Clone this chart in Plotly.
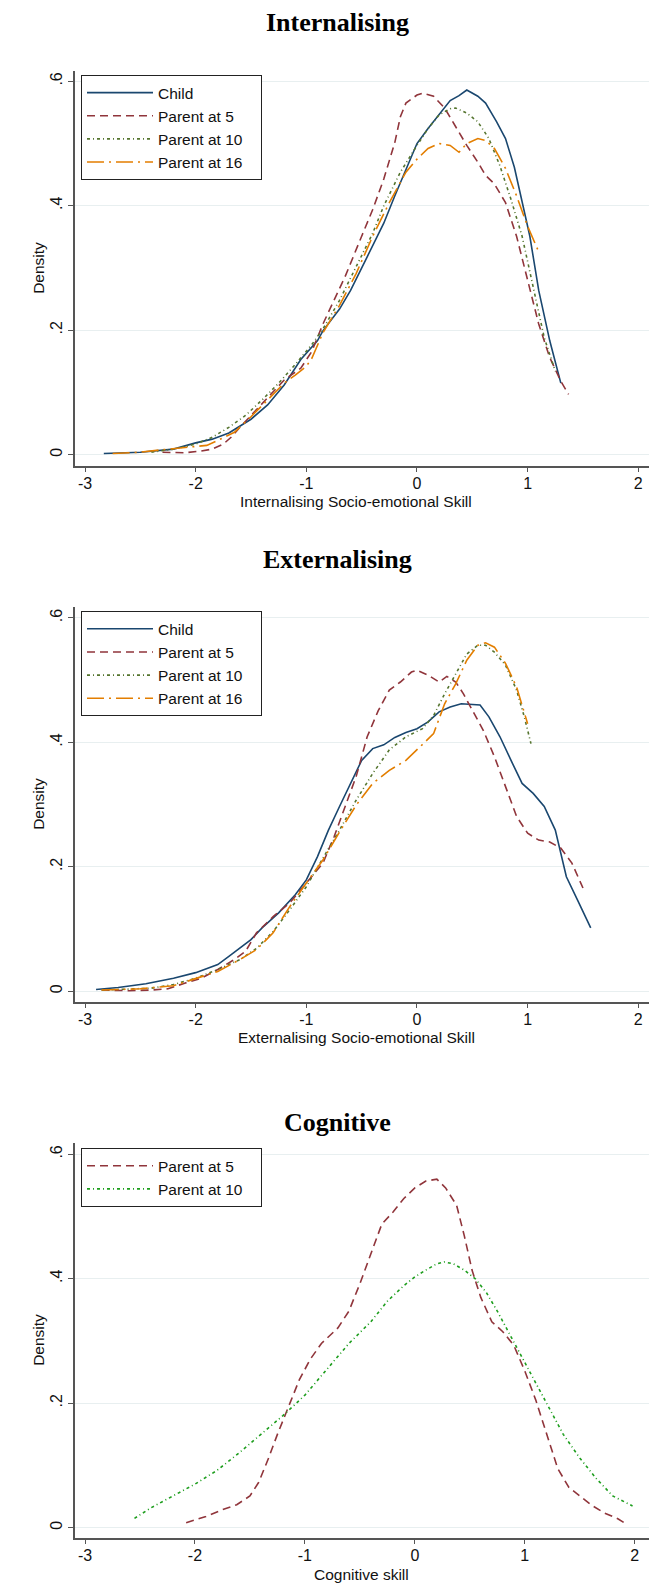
import plotly.graph_objects as go

# ---------------- DATA ----------------
# Panel 1: Internalising
int_child_x = [-2.83, -2.5, -2.2, -2.0, -1.85, -1.7, -1.5, -1.35, -1.2, -1.05, -0.9, -0.85, -0.7, -0.6, -0.45, -0.3, -0.2, -0.1, 0.0, 0.1, 0.2, 0.3, 0.38, 0.45, 0.55, 0.62, 0.72, 0.8, 0.88, 0.95, 1.02, 1.1, 1.2, 1.3]
int_child_y = [0.002, 0.004, 0.009, 0.019, 0.025, 0.035, 0.057, 0.08, 0.112, 0.153, 0.183, 0.199, 0.234, 0.264, 0.318, 0.372, 0.416, 0.459, 0.50, 0.524, 0.547, 0.569, 0.577, 0.586, 0.576, 0.565, 0.535, 0.508, 0.462, 0.405, 0.351, 0.264, 0.183, 0.115]

int_p5_x = [-2.3, -2.1, -1.95, -1.85, -1.75, -1.68, -1.6, -1.5, -1.35, -1.2, -1.05, -0.95, -0.85, -0.75, -0.65, -0.5, -0.4, -0.3, -0.2, -0.15, -0.1, 0.0, 0.05, 0.15, 0.25, 0.35, 0.45, 0.55, 0.62, 0.7, 0.8, 0.9, 1.0, 1.1, 1.2, 1.3, 1.37]
int_p5_y = [0.004, 0.003, 0.006, 0.009, 0.017, 0.028, 0.044, 0.063, 0.093, 0.12, 0.139, 0.166, 0.21, 0.248, 0.286, 0.351, 0.394, 0.443, 0.502, 0.543, 0.565, 0.578, 0.581, 0.576, 0.557, 0.527, 0.497, 0.47, 0.449, 0.435, 0.405, 0.351, 0.28, 0.21, 0.156, 0.118, 0.097]

int_p10_x = [-2.4, -2.2, -2.0, -1.85, -1.7, -1.55, -1.4, -1.25, -1.1, -0.95, -0.85, -0.7, -0.55, -0.4, -0.3, -0.15, 0.0, 0.1, 0.2, 0.3, 0.35, 0.45, 0.55, 0.65, 0.75, 0.85, 0.95, 1.05, 1.15, 1.25]
int_p10_y = [0.004, 0.009, 0.017, 0.028, 0.044, 0.063, 0.088, 0.115, 0.145, 0.177, 0.202, 0.248, 0.302, 0.356, 0.40, 0.454, 0.497, 0.524, 0.546, 0.556, 0.557, 0.549, 0.535, 0.508, 0.464, 0.41, 0.351, 0.269, 0.188, 0.134]

int_p16_x = [-2.75, -2.5, -2.3, -2.1, -1.9, -1.8, -1.65, -1.5, -1.35, -1.2, -1.1, -1.0, -0.95, -0.85, -0.7, -0.55, -0.4, -0.25, -0.1, 0.0, 0.1, 0.2, 0.3, 0.38, 0.45, 0.55, 0.62, 0.7, 0.8, 0.9, 1.0, 1.1]
int_p16_y = [0.002, 0.004, 0.008, 0.011, 0.015, 0.023, 0.036, 0.061, 0.088, 0.115, 0.128, 0.142, 0.155, 0.196, 0.24, 0.291, 0.351, 0.405, 0.454, 0.475, 0.492, 0.50, 0.497, 0.486, 0.50, 0.508, 0.505, 0.492, 0.46, 0.416, 0.367, 0.326]

# Panel 2: Externalising
ext_child_x = [-2.9, -2.7, -2.45, -2.2, -2.0, -1.8, -1.7, -1.6, -1.5, -1.4, -1.25, -1.1, -1.0, -0.9, -0.8, -0.7, -0.6, -0.5, -0.4, -0.3, -0.2, -0.1, 0.0, 0.1, 0.2, 0.3, 0.4, 0.5, 0.57, 0.65, 0.75, 0.85, 0.95, 1.05, 1.15, 1.25, 1.35, 1.45, 1.57]
ext_child_y = [0.003, 0.006, 0.012, 0.021, 0.03, 0.043, 0.056, 0.069, 0.083, 0.102, 0.126, 0.155, 0.179, 0.216, 0.259, 0.297, 0.334, 0.371, 0.39, 0.396, 0.408, 0.416, 0.422, 0.433, 0.449, 0.457, 0.462, 0.461, 0.46, 0.441, 0.409, 0.371, 0.334, 0.318, 0.297, 0.259, 0.184, 0.147, 0.102]

ext_p5_x = [-2.85, -2.6, -2.4, -2.25, -2.1, -1.95, -1.8, -1.65, -1.55, -1.45, -1.3, -1.15, -1.0, -0.85, -0.75, -0.65, -0.55, -0.45, -0.35, -0.25, -0.15, -0.05, 0.0, 0.1, 0.2, 0.27, 0.35, 0.42, 0.5, 0.6, 0.7, 0.8, 0.9, 1.0, 1.1, 1.2, 1.3, 1.4, 1.5]
ext_p5_y = [0.002, 0.001, 0.002, 0.004, 0.013, 0.021, 0.035, 0.051, 0.064, 0.094, 0.12, 0.142, 0.174, 0.206, 0.248, 0.297, 0.345, 0.409, 0.451, 0.484, 0.497, 0.513, 0.516, 0.508, 0.497, 0.506, 0.497, 0.478, 0.451, 0.419, 0.377, 0.329, 0.281, 0.254, 0.243, 0.24, 0.23, 0.206, 0.166]

ext_p10_x = [-2.85, -2.6, -2.4, -2.2, -2.0, -1.8, -1.6, -1.45, -1.3, -1.15, -1.0, -0.85, -0.7, -0.55, -0.4, -0.25, -0.1, 0.05, 0.15, 0.25, 0.35, 0.45, 0.55, 0.62, 0.7, 0.8, 0.9, 0.97, 1.03]
ext_p10_y = [0.002, 0.003, 0.005, 0.011, 0.021, 0.035, 0.051, 0.069, 0.096, 0.131, 0.168, 0.214, 0.259, 0.307, 0.35, 0.388, 0.409, 0.422, 0.443, 0.478, 0.51, 0.542, 0.556, 0.556, 0.545, 0.524, 0.484, 0.441, 0.398]

ext_p16_x = [-2.85, -2.5, -2.2, -2.0, -1.8, -1.6, -1.45, -1.3, -1.15, -1.0, -0.85, -0.7, -0.55, -0.4, -0.25, -0.1, 0.0, 0.15, 0.25, 0.35, 0.45, 0.55, 0.62, 0.7, 0.8, 0.9, 1.0]
ext_p16_y = [0.002, 0.004, 0.009, 0.02, 0.032, 0.051, 0.067, 0.094, 0.136, 0.174, 0.211, 0.256, 0.299, 0.334, 0.355, 0.371, 0.388, 0.414, 0.462, 0.494, 0.532, 0.556, 0.56, 0.553, 0.527, 0.489, 0.43]

# Panel 3: Cognitive
cog_p5_x = [-2.08, -1.9, -1.75, -1.62, -1.5, -1.42, -1.33, -1.25, -1.15, -1.05, -0.95, -0.85, -0.7, -0.6, -0.5, -0.4, -0.3, -0.2, -0.1, 0.0, 0.1, 0.2, 0.28, 0.38, 0.45, 0.52, 0.6, 0.7, 0.8, 0.9, 1.0, 1.1, 1.2, 1.3, 1.4, 1.5, 1.6, 1.72, 1.85, 1.93]
cog_p5_y = [0.008, 0.018, 0.029, 0.037, 0.051, 0.073, 0.112, 0.15, 0.194, 0.238, 0.271, 0.296, 0.321, 0.348, 0.392, 0.441, 0.488, 0.507, 0.529, 0.546, 0.557, 0.56, 0.546, 0.518, 0.469, 0.414, 0.37, 0.331, 0.315, 0.293, 0.252, 0.205, 0.15, 0.095, 0.065, 0.051, 0.037, 0.024, 0.014, 0.005]

cog_p10_x = [-2.55, -2.4, -2.2, -2.0, -1.8, -1.6, -1.4, -1.2, -1.0, -0.8, -0.6, -0.4, -0.25, -0.1, 0.0, 0.1, 0.2, 0.27, 0.35, 0.45, 0.55, 0.65, 0.75, 0.85, 0.95, 1.05, 1.2, 1.35, 1.5, 1.65, 1.8, 1.98]
cog_p10_y = [0.015, 0.032, 0.051, 0.07, 0.092, 0.12, 0.15, 0.18, 0.213, 0.254, 0.296, 0.331, 0.364, 0.389, 0.403, 0.414, 0.424, 0.427, 0.424, 0.414, 0.40, 0.378, 0.348, 0.315, 0.282, 0.249, 0.20, 0.15, 0.112, 0.079, 0.051, 0.035]

panel_titles = ["Internalising", "Externalising", "Cognitive"]
x_titles = ["Internalising Socio-emotional Skill", "Externalising Socio-emotional Skill", "Cognitive skill"]
y_title = "Density"
series_names = ["Child", "Parent at 5", "Parent at 10", "Parent at 16"]
x_tickvals = [-3, -2, -1, 0, 1, 2]
x_ticktext = ["-3", "-2", "-1", "0", "1", "2"]
y_tickvals = [0, 0.2, 0.4, 0.6]
y_ticktext = ["0", ".2", ".4", ".6"]

# ---------------- STYLE ----------------
W, H = 656, 1587
NAVY, MAROON, OLIVE, ORANGE, GREEN = "#1a476f", "#90353b", "#55752f", "#e37e00", "#1e9e1e"
DASH5 = "8px,5px"
DASH10 = "3px,3px,1px,3px"
DASH16 = "17px,5px,2px,5px"
PAD = "\u00a0\u00a0\u00a0"   # right padding inside legend box

def py(p):
    return 1 - p / H

fig = go.Figure()

def add(x, y, name, color, dash, idx):
    sfx = "" if idx == 1 else str(idx)
    fig.add_trace(go.Scatter(
        x=x, y=y, mode="lines", name=name,
        line=dict(color=color, width=1.6, dash=dash),
        xaxis="x" + sfx, yaxis="y" + sfx, legend="legend" + sfx,
        hoverinfo="skip"))

add(int_child_x, int_child_y, series_names[0], NAVY, "solid", 1)
add(int_p5_x, int_p5_y, series_names[1], MAROON, DASH5, 1)
add(int_p10_x, int_p10_y, series_names[2] + PAD, OLIVE, DASH10, 1)
add(int_p16_x, int_p16_y, series_names[3] + PAD, ORANGE, DASH16, 1)
add(ext_child_x, ext_child_y, series_names[0], NAVY, "solid", 2)
add(ext_p5_x, ext_p5_y, series_names[1], MAROON, DASH5, 2)
add(ext_p10_x, ext_p10_y, series_names[2] + PAD, OLIVE, DASH10, 2)
add(ext_p16_x, ext_p16_y, series_names[3] + PAD, ORANGE, DASH16, 2)
add(cog_p5_x, cog_p5_y, series_names[1], MAROON, DASH5, 3)
add(cog_p10_x, cog_p10_y, series_names[2] + PAD, GREEN, DASH10, 3)

left_px, right_px = 75, 648.7
bottoms = [465.7, 1001.7, 1537.7]
plot_h = 394.7
zero_px = [454.7, 991.3, 1527.7]
ppu_y = 622.3
x_ranges = [[-3.0904, 2.094], [-3.0904, 2.094], [-3.091, 2.127]]
legend_tops = [75.0, 611.2, 1148.2]
title_y = [22.5, 559.0, 1122.0]
xtitle_y = [501.0, 1037.0, 1574.0]
xtitle_x = [356.0, 356.0, 361.0]

axis_col = "#555555"
tickfont = dict(family="Liberation Sans, Arial, sans-serif", size=16, color="#111111")
labfont = dict(family="Liberation Sans, Arial, sans-serif", size=15.5, color="#111111")

layout = dict(
    width=W, height=H,
    margin=dict(l=0, r=0, t=0, b=0),
    paper_bgcolor="white", plot_bgcolor="white",
    showlegend=True,
    annotations=[],
)

for i in range(3):
    sfx = "" if i == 0 else str(i + 1)
    b = bottoms[i]
    t = b - plot_h
    ylo = -(b - zero_px[i]) / ppu_y
    yhi = (zero_px[i] - t) / ppu_y
    layout["xaxis" + sfx] = dict(
        domain=[left_px / W, right_px / W], range=x_ranges[i],
        anchor="y" + sfx, tickvals=x_tickvals, ticktext=x_ticktext,
        ticks="outside", ticklen=5,
        tickwidth=1, tickcolor=axis_col, showline=True, linecolor=axis_col,
        linewidth=1.5, showgrid=False, zeroline=False, tickfont=tickfont,
        ticklabelstandoff=-3, fixedrange=True)
    layout["yaxis" + sfx] = dict(
        domain=[py(b), py(t)], range=[ylo, yhi], anchor="x" + sfx,
        tickvals=y_tickvals, ticktext=y_ticktext, tickangle=-90,
        ticks="outside", ticklen=5, tickwidth=1, tickcolor=axis_col,
        showline=True, linecolor=axis_col, linewidth=1.5,
        showgrid=True, gridcolor="#e8eff0", gridwidth=1.2, zeroline=False,
        tickfont=tickfont, fixedrange=True)
    layout["legend" + sfx] = dict(
        x=81 / W, y=py(legend_tops[i]), xanchor="left", yanchor="top",
        bordercolor="#222222", borderwidth=1, bgcolor="white",
        font=dict(family="Liberation Sans, Arial, sans-serif", size=15.5, color="#111111"),
        itemwidth=66, tracegroupgap=0)
    layout["annotations"].append(dict(
        text="<b>" + panel_titles[i] + "</b>", x=337.5 / W, y=py(title_y[i]),
        xref="paper", yref="paper", xanchor="center", yanchor="middle",
        showarrow=False,
        font=dict(family="Liberation Serif, Times New Roman, serif", size=26, color="#000000")))
    layout["annotations"].append(dict(
        text=x_titles[i], x=xtitle_x[i] / W, y=py(xtitle_y[i]),
        xref="paper", yref="paper", xanchor="center", yanchor="middle",
        showarrow=False, font=labfont))
    layout["annotations"].append(dict(
        text=y_title, x=38.5 / W, y=py(b - plot_h / 2),
        xref="paper", yref="paper", xanchor="center", yanchor="middle",
        textangle=-90, showarrow=False, font=labfont))

fig.update_layout(**layout)
fig.write_html("out.html", config={"displayModeBar": False},
               post_script="document.body.style.margin='0';document.body.style.overflow='hidden';")
